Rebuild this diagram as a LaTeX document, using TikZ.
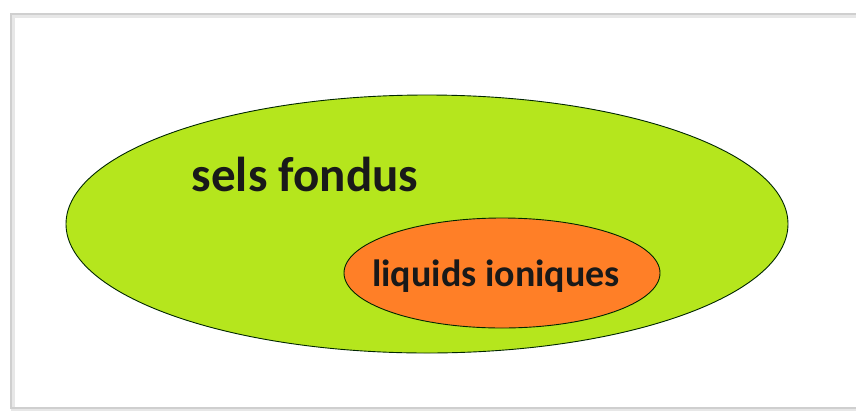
\documentclass[tikz,border=0pt]{standalone}
\usepackage{fontspec}
\setmainfont{Carlito}
\definecolor{limeg}{HTML}{B5E61D}
\definecolor{orng}{HTML}{FF7F27}
\definecolor{framegrey}{HTML}{CFCFCF}
\begin{document}
\begin{tikzpicture}[x=1pt,y=-1pt,
  setfill/.style={draw=black!85!green, line width=0.9pt},
  lbl/.style={text=black!90, inner sep=0pt}]
\useasboundingbox (0,0) rectangle (856,410);
\fill[white] (0,0) rectangle (856,410);
\begin{scope}
\clip (0,0) rectangle (856,410);
\draw[framegrey!50, line width=4pt] (12.5,15.5) rectangle (880,409.5);
\draw[framegrey, line width=1.2pt] (11,14) rectangle (880,408);
\end{scope}
\path[setfill, fill=limeg] (427,224) ellipse [x radius=361, y radius=129];
\coordinate (outerc) at (427,224);
\path[setfill, fill=orng] (502,273) ellipse [x radius=158, y radius=55];
\coordinate (innerc) at (502,273);
\node[lbl, font=\fontsize{49}{56}\selectfont\bfseries] (sels) at (305,174) {sels fondus};
\node[lbl, font=\fontsize{38}{44}\selectfont\bfseries] (liq) at (496,276) {liquids ioniques};
\end{tikzpicture}
\end{document}
